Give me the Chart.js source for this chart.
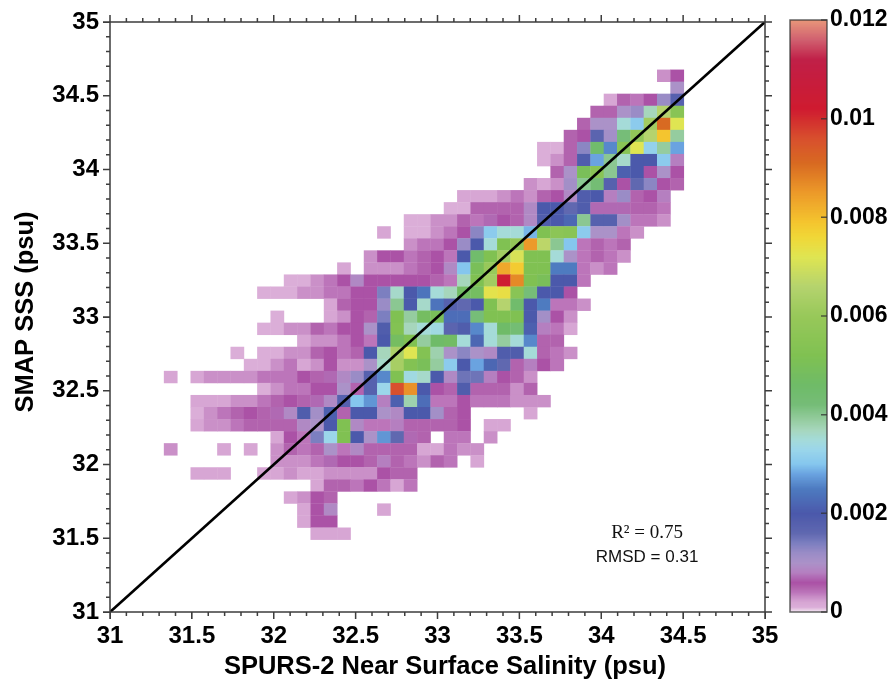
<!DOCTYPE html>
<html lang="en">
  <head>
    <meta charset="utf-8">
    <title>SMAP SSS vs SPURS-2 salinity</title>
    <script src="https://cdnjs.cloudflare.com/ajax/libs/Chart.js/4.4.1/chart.umd.min.js"></script>
    <style>
      html, body { margin: 0; padding: 0; background: #fff; }
      canvas { position: absolute; top: 0; filter: blur(0.4px); }
    </style>
  </head>
  <body>
    <canvas id="mainChart" width="896" height="682" style="left:0"></canvas>
    <canvas id="barChart" width="126" height="682" style="left:770px"></canvas>
    <script>
      // bin layout of the 2D histogram (psu)
      const xFirstEdge = 31.33;
      const yTopEdge = 34.675;
      const xBin = 0.0814;
      const yBin = 0.0817;

      // first column of each row, top row first
      const rowStart = [37, 38, 33, 32, 31, 30, 28, 28, 29, 27, 22, 21, 18, 16, 18, 15, 13, 9, 7, 12, 8, 7, 10, 5, 6, 0, 7, 2, 2, 2, 8, 0, 8, 2, 11, 9, 10, 10, 11];

      // density of each cell in units of 0.0001, 0 = empty cell
      const rowValues = [
        [3, 6],
        [10],
        [2, 5, 4, 6, 12, 18],
        [5, 5, 10, 12, 37, 66, 55],
        [5, 10, 10, 35, 31, 62, 91, 72],
        [5, 6, 17, 11, 42, 58, 66, 79, 39],
        [1, 1, 5, 13, 45, 26, 55, 72, 32, 39, 28],
        [1, 3, 5, 19, 28, 40, 36, 20, 20, 31, 8],
        [5, 10, 50, 55, 40, 21, 20, 6, 10, 6],
        [3, 2, 3, 11, 40, 43, 18, 6, 16, 13, 6, 5],
        [2, 2, 2, 3, 4, 3, 5, 6, 9, 19, 20, 8, 12, 5, 6, 8],
        [1, 1, 5, 5, 5, 5, 9, 20, 20, 16, 19, 7, 7, 7, 5, 5, 4],
        [1, 1, 3, 3, 5, 4, 7, 6, 5, 9, 19, 20, 22, 40, 18, 18, 11, 4, 4, 3],
        [2, 0, 1, 1, 3, 4, 6, 13, 31, 35, 35, 29, 52, 56, 55, 31, 10, 10, 4, 3],
        [3, 4, 4, 6, 12, 20, 35, 52, 58, 85, 67, 40, 30, 4, 5, 4, 5],
        [3, 6, 6, 4, 5, 6, 4, 20, 45, 52, 62, 71, 52, 52, 35, 10, 4, 5, 4, 3],
        [2, 0, 3, 3, 3, 4, 5, 6, 9, 30, 50, 60, 83, 78, 52, 52, 25, 25, 4, 3, 4],
        [1, 1, 3, 4, 6, 9, 6, 6, 6, 6, 6, 5, 4, 37, 52, 62, 103, 87, 52, 50, 20, 20, 4],
        [1, 1, 1, 3, 3, 4, 4, 6, 6, 14, 36, 20, 24, 35, 37, 47, 48, 73, 74, 55, 42, 20, 20, 6],
        [2, 5, 6, 6, 12, 40, 20, 36, 24, 18, 16, 20, 52, 66, 45, 20, 25, 4, 4, 3],
        [1, 0, 0, 0, 2, 3, 6, 5, 14, 52, 39, 48, 50, 23, 23, 42, 52, 52, 52, 20, 11, 6, 3],
        [1, 1, 3, 3, 5, 4, 6, 6, 10, 19, 53, 37, 35, 34, 17, 19, 26, 35, 46, 43, 21, 8, 4, 2],
        [2, 3, 3, 4, 6, 4, 20, 48, 52, 39, 46, 47, 35, 22, 35, 39, 35, 26, 5, 5],
        [1, 0, 1, 1, 3, 3, 5, 6, 4, 5, 20, 37, 64, 72, 53, 38, 10, 13, 10, 9, 19, 19, 35, 5, 4, 3],
        [1, 1, 3, 4, 2, 3, 6, 3, 3, 10, 36, 63, 53, 50, 39, 31, 20, 28, 22, 16, 5, 8, 6, 4],
        [2, 0, 2, 3, 3, 3, 3, 4, 4, 4, 6, 5, 7, 9, 12, 18, 26, 52, 34, 36, 20, 9, 15, 15, 8, 6, 5, 3],
        [1, 3, 4, 4, 6, 6, 10, 5, 18, 33, 96, 86, 20, 6, 5, 19, 5, 5, 5, 3, 5],
        [2, 2, 2, 3, 3, 4, 5, 6, 5, 7, 9, 18, 30, 27, 8, 21, 38, 23, 4, 4, 6, 4, 4, 4, 3, 3, 3],
        [1, 3, 4, 5, 6, 5, 7, 9, 19, 11, 21, 5, 20, 20, 10, 9, 20, 20, 11, 5, 6, 0, 0, 0, 0, 2],
        [2, 3, 3, 4, 5, 5, 5, 5, 9, 10, 20, 52, 9, 4, 4, 8, 5, 5, 5, 5, 6, 0, 2, 2],
        [2, 6, 4, 14, 33, 52, 20, 10, 27, 16, 7, 5, 0, 4, 4, 0, 3],
        [3, 0, 0, 0, 2, 0, 2, 0, 3, 5, 4, 5, 10, 4, 9, 5, 5, 5, 5, 2, 2, 4, 3, 3],
        [3, 3, 3, 4, 7, 6, 6, 5, 8, 5, 4, 3, 5, 4, 0, 2],
        [2, 2, 2, 0, 0, 2, 2, 3, 2, 2, 3, 3, 3, 3, 6, 5, 5],
        [2, 5, 5, 4, 6, 4, 2, 4],
        [2, 3, 6, 5],
        [2, 6, 9, 0, 0, 0, 2],
        [2, 6, 6],
        [2, 2, 2]
      ];

      // colour scale, stop values in the same 0.0001 units
      const stopValues = [0, 1, 2, 3, 4, 5, 6, 8, 10, 12, 14, 16, 20, 25, 28, 30, 33, 35, 37, 39, 42, 46, 52, 60, 66, 72, 76, 79, 85, 91, 96, 102, 112, 116, 120];
      const stopColors = ['#f6ecf5', '#dbaed8', '#d7a6d4', '#ca90c8', '#bc75ba', '#b263ae', '#ab52a6', '#b57fc0', '#ab92c8', '#9a8cc6', '#7c7fc0', '#6068b0', '#4b59ab', '#4e7bc0', '#6aa3e0', '#85c6ee', '#9bd6ea', '#a5dbd8', '#a6d6bc', '#95cc9f', '#76bd78', '#6fbb68', '#80c152', '#98c85a', '#b5d36e', '#dfe552', '#f0d738', '#f4c52f', '#ec9a2a', '#d86a22', '#d8502e', '#cf1b30', '#c02048', '#d06070', '#e8967a'];

      const axisLimits = [31, 35];
      const majorStep = 0.5;
      const minorStep = 0.1;
      const diagonal = [31, 35];
      const barTicks = [0, 0.002, 0.004, 0.006, 0.008, 0.01, 0.012];
      const notes = [
        { text: 'R\u00b2 = 0.75', x: 34.28, y: 31.535, font: '19px "Liberation Serif"' },
        { text: 'RMSD = 0.31', x: 34.28, y: 31.37, font: '17px "Liberation Sans"' }
      ];
      const xTitle = 'SPURS-2 Near Surface Salinity (psu)';
      const yTitle = 'SMAP SSS (psu)';

      const axisColor = '#3d3d3d';
      const fontFamily = '"Liberation Sans", Arial, sans-serif';
      const tickFont = { family: fontFamily, weight: 'bold', size: 24 };
      const keyFont = { family: fontFamily, weight: 'bold', size: 23 };

      function hexToRgb(h) {
        return [1, 3, 5].map(function (i) { return parseInt(h.substr(i, 2), 16); });
      }

      function colorFor(v) {
        let i = 0;
        while (i < stopValues.length - 2 && v > stopValues[i + 1]) i++;
        const t = Math.min(1, (v - stopValues[i]) / (stopValues[i + 1] - stopValues[i]));
        const a = hexToRgb(stopColors[i]);
        const b = hexToRgb(stopColors[i + 1]);
        return 'rgb(' + a.map(function (c, n) { return Math.round(c + (b[n] - c) * t); }).join(',') + ')';
      }

      const cells = [];
      const cellColors = [];
      rowValues.forEach(function (vals, r) {
        vals.forEach(function (v, n) {
          if (!v) return;
          const col = rowStart[r] + n;
          const low = yTopEdge - (r + 1) * yBin;
          // tiny overlap so no white seams show between neighbours
          cells.push({ x: xFirstEdge + (col + 0.5) * xBin, y: [low, low + yBin * 1.03] });
          cellColors.push(colorFor(v));
        });
      });

      // minor and major marks on all four sides of the box, axis titles and the stats note
      const boxTicks = {
        id: 'boxTicks',
        afterDatasetsDraw(chart) {
          const { ctx, chartArea: a, scales } = chart;
          ctx.save();
          ctx.strokeStyle = axisColor;
          ctx.lineWidth = 1.5;
          ctx.strokeRect(a.left, a.top, a.right - a.left, a.bottom - a.top);
          ctx.beginPath();
          const n = Math.round((axisLimits[1] - axisLimits[0]) / minorStep);
          for (let i = 0; i <= n; i++) {
            const v = axisLimits[0] + i * minorStep;
            const len = i % 5 === 0 ? 7 : 4;
            const px = scales.x.getPixelForValue(v);
            const py = scales.y.getPixelForValue(v);
            ctx.moveTo(px, a.top); ctx.lineTo(px, a.top - len);
            ctx.moveTo(px, a.bottom); ctx.lineTo(px, a.bottom + len);
            ctx.moveTo(a.left, py); ctx.lineTo(a.left - len, py);
            ctx.moveTo(a.right, py); ctx.lineTo(a.right + len, py);
          }
          ctx.stroke();
          ctx.fillStyle = '#111';
          ctx.textAlign = 'center';
          ctx.textBaseline = 'middle';
          notes.forEach(function (note) {
            ctx.font = note.font;
            ctx.fillText(note.text, scales.x.getPixelForValue(note.x), scales.y.getPixelForValue(note.y));
          });
          ctx.fillStyle = '#000';
          ctx.font = 'bold 25.5px ' + fontFamily;
          ctx.fillText(xTitle, 445, 667);
          ctx.translate(26, 312);
          ctx.rotate(-Math.PI / 2);
          ctx.fillText(yTitle, 0, 0);
          ctx.restore();
        }
      };

      new Chart(document.getElementById('mainChart'), {
        data: {
          datasets: [
            {
              type: 'line',
              data: diagonal.map(function (v) { return { x: v, y: v }; }),
              borderColor: '#000',
              borderWidth: 2.7,
              pointRadius: 0,
              order: 0
            },
            {
              type: 'bar',
              data: cells,
              backgroundColor: cellColors,
              categoryPercentage: 1,
              barPercentage: 1.03,
              order: 1
            }
          ]
        },
        plugins: [boxTicks],
        options: {
          responsive: false,
          animation: false,
          layout: { padding: { left: 0, top: 22, right: 131, bottom: 0 } },
          plugins: { legend: { display: false }, tooltip: { enabled: false } },
          scales: {
            x: {
              type: 'linear',
              offset: false,
              min: axisLimits[0],
              max: axisLimits[1],
              afterFit: function (s) { s.height = 70; },
              border: { display: false },
              grid: { drawOnChartArea: false, drawTicks: true, tickLength: 7, tickColor: axisColor, offset: false },
              ticks: {
                stepSize: majorStep,
                color: '#000',
                font: tickFont,
                padding: 3,
                maxRotation: 0,
                autoSkip: false,
                callback: function (v) { return String(+v.toFixed(1)); }
              }
            },
            y: {
              type: 'linear',
              min: axisLimits[0],
              max: axisLimits[1],
              afterFit: function (s) { s.width = 110; },
              border: { display: false },
              grid: { drawOnChartArea: false, drawTicks: true, tickLength: 7, tickColor: axisColor },
              ticks: {
                stepSize: majorStep,
                color: '#000',
                font: tickFont,
                padding: 4,
                callback: function (v) { return String(+v.toFixed(1)); }
              }
            }
          }
        }
      });

      // colour key, one pixel thin horizontal bars on its own value axis
      const keyBars = [];
      const keyColors = [];
      const keySteps = 592;
      for (let i = 0; i < keySteps; i++) {
        const u = (i + 0.5) / keySteps * 120;
        keyBars.push({ y: u / 10000, x: [0, 1] });
        keyColors.push(colorFor(u));
      }

      const keyFrame = {
        id: 'keyFrame',
        afterDatasetsDraw(chart) {
          const { ctx, chartArea: a, scales } = chart;
          ctx.save();
          ctx.strokeStyle = 'rgba(50,50,50,0.75)';
          ctx.lineWidth = 1.5;
          ctx.strokeRect(a.left, a.top, a.right - a.left, a.bottom - a.top);
          ctx.beginPath();
          barTicks.forEach(function (v) {
            const py = scales.y.getPixelForValue(v);
            ctx.moveTo(a.right, py);
            ctx.lineTo(a.right - 6, py);
          });
          ctx.stroke();
          ctx.restore();
        }
      };

      new Chart(document.getElementById('barChart'), {
        type: 'bar',
        data: {
          datasets: [{
            data: keyBars,
            backgroundColor: keyColors,
            categoryPercentage: 1,
            barPercentage: 1
          }]
        },
        plugins: [keyFrame],
        options: {
          indexAxis: 'y',
          responsive: false,
          animation: false,
          layout: { padding: { left: 20, top: 20, right: 0, bottom: 70 } },
          plugins: { legend: { display: false }, tooltip: { enabled: false } },
          scales: {
            x: { type: 'linear', min: 0, max: 1, display: false, offset: false },
            y: {
              type: 'linear',
              position: 'right',
              offset: false,
              min: 0,
              max: barTicks[barTicks.length - 1],
              afterFit: function (s) { s.width = 69; },
              afterBuildTicks: function (s) { s.ticks = barTicks.map(function (v) { return { value: v }; }); },
              border: { display: false },
              grid: { display: false, drawTicks: false, tickLength: 0 },
              ticks: {
                color: '#000',
                font: keyFont,
                padding: 3,
                callback: function (v) { return String(+v.toFixed(3)); }
              }
            }
          }
        }
      });
    </script>
  </body>
</html>
